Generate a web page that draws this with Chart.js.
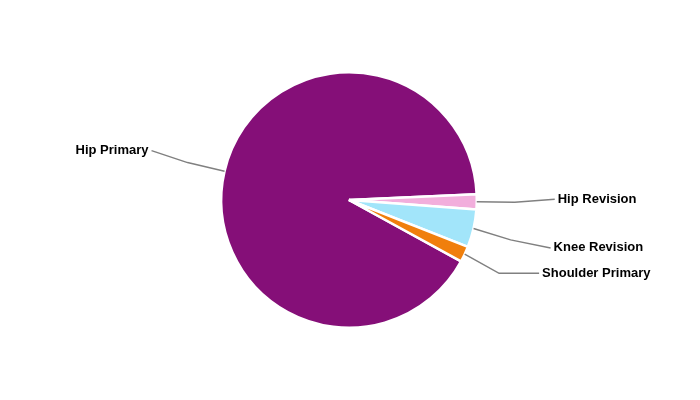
<!DOCTYPE html>
<html>
<head>
<meta charset="utf-8">
<script src="https://cdn.jsdelivr.net/npm/chart.js@4/dist/chart.umd.min.js"></script>
<style>
html,body{margin:0;padding:0;background:#fff;}
#wrap{width:700px;height:400px;position:relative;}
</style>
</head>
<body>
<div id="wrap"><canvas id="c" width="700" height="400"></canvas></div>
<script>
const categories = ["Hip Primary", "Hip Revision", "Knee Revision", "Shoulder Primary"];
const values = [91.3, 1.9, 4.8, 2.0];
const colors = ["#850F78", "#F2AEDC", "#A2E5FA", "#F07F0C"];

const leaderPlugin = {
  id: 'leaders',
  afterDatasetsDraw(chart, args, opts) {
    const ctx = chart.ctx;
    const meta = chart.getDatasetMeta(0);
    ctx.save();
    ctx.font = 'bold 13px "Liberation Sans", Arial, sans-serif';
    ctx.textBaseline = 'middle';
    meta.data.forEach((arc, i) => {
      const p = arc.getProps(['x','y','startAngle','endAngle','outerRadius'], true);
      const mid = (p.startAngle + p.endAngle) / 2;
      const r0 = p.outerRadius;
      const r1 = r0 + 38;
      const x0 = p.x + Math.cos(mid) * r0, y0 = p.y + Math.sin(mid) * r0;
      const right = Math.cos(mid) >= 0;
      const e = (opts.elbow && opts.elbow[i]) || 0;
      const x1 = p.x + Math.cos(mid) * r1, y1 = p.y + Math.sin(mid) * r1 + e;
      const dy = (opts.shift && opts.shift[i]) || 0;
      const x2 = x1 + (right ? 40 : -36);
      const y2 = y1 + dy;
      ctx.strokeStyle = '#808080';
      ctx.lineWidth = 1.5;
      ctx.beginPath();
      ctx.moveTo(x0, y0);
      ctx.lineTo(x1, y1);
      ctx.lineTo(x2, y2);
      ctx.stroke();
      ctx.fillStyle = '#000';
      ctx.textAlign = right ? 'left' : 'right';
      ctx.fillText(chart.data.labels[i], x2 + (right ? 3 : -3), y2);
    });
    ctx.restore();
  }
};

new Chart(document.getElementById('c'), {
  type: 'pie',
  data: {
    labels: categories,
    datasets: [{
      data: values,
      backgroundColor: colors,
      borderColor: '#ffffff',
      borderWidth: 2.5
    }]
  },
  options: {
    responsive: false,
    animation: false,
    rotation: 118.7,
    layout: { padding: { top: 71, bottom: 71, left: 0, right: 2 } },
    plugins: {
      legend: { display: false },
      tooltip: { enabled: false },
      leaders: { elbow: [0, 0, 3, 3], shift: [-12, -3, 8, 0] }
    }
  },
  plugins: [leaderPlugin]
});
</script>
</body>
</html>
